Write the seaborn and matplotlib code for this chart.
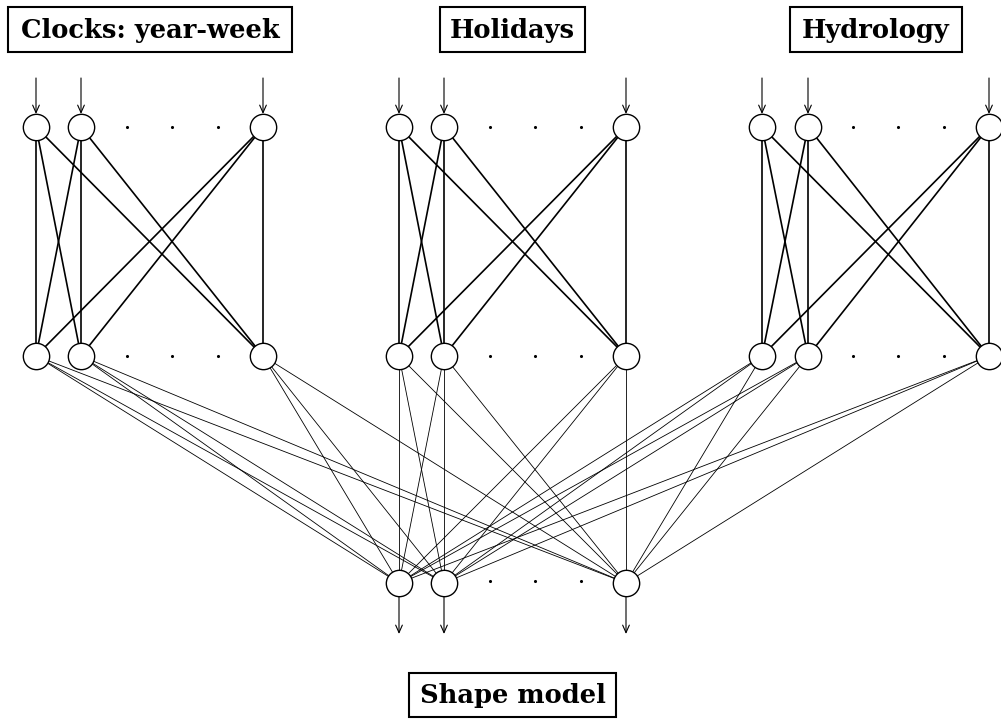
import numpy as np
import pandas as pd
import seaborn as sns
import matplotlib
matplotlib.use("Agg")
import matplotlib.pyplot as plt
from matplotlib.patches import Rectangle

# ---- data (diagram node layout) ----
group_labels = ["Clocks: year-week", "Holidays", "Hydrology"]
clocks_x = [36, 81, 263]
holidays_x = [399, 444, 626]
hydrology_x = [762, 808, 989]
output_x = [399, 444, 626]
output_label = "Shape model"
layer_y = [127, 356, 583]          # input, hidden, output rows
dot_offsets = [91, 136, 182]       # "· · ·" after the first node

group_boxes = [(8, 7, 284, 45), (440, 7, 145, 45), (790, 7, 172, 45)]
output_box = (409, 673, 207, 44)

sns.set_theme(style="white")

fig = plt.figure(figsize=(10.01, 7.19), dpi=100)
ax = fig.add_axes([0, 0, 1, 1])

groups_x = [clocks_x, holidays_x, hydrology_x]

# edges input -> hidden (within group)
rows_in = []
eid = 0
for xs in groups_x:
    for a in xs:
        for b in xs:
            rows_in.append(dict(edge=eid, x=a, y=layer_y[0]))
            rows_in.append(dict(edge=eid, x=b, y=layer_y[1]))
            eid += 1
df_in = pd.DataFrame(rows_in)

# edges hidden -> output (all groups)
rows_out = []
for xs in groups_x:
    for a in xs:
        for b in output_x:
            rows_out.append(dict(edge=eid, x=a, y=layer_y[1]))
            rows_out.append(dict(edge=eid, x=b, y=layer_y[2]))
            eid += 1
df_out = pd.DataFrame(rows_out)

sns.lineplot(data=df_in, x="x", y="y", units="edge", estimator=None, sort=False,
             color="black", linewidth=1.2, ax=ax, legend=False, zorder=2)
sns.lineplot(data=df_out, x="x", y="y", units="edge", estimator=None, sort=False,
             color="black", linewidth=0.6, ax=ax, legend=False, zorder=1)

# nodes
node_rows = []
for xs in groups_x:
    for x in xs:
        node_rows.append(dict(x=x, y=layer_y[0]))
        node_rows.append(dict(x=x, y=layer_y[1]))
for x in output_x:
    node_rows.append(dict(x=x, y=layer_y[2]))
df_nodes = pd.DataFrame(node_rows)
sns.scatterplot(data=df_nodes, x="x", y="y", s=360, marker="o", facecolor="white",
                edgecolor="black", linewidth=1.0, ax=ax, legend=False, zorder=5)

# dots
dot_rows = []
for xs in groups_x:
    for off in dot_offsets:
        dot_rows.append(dict(x=xs[0] + off, y=layer_y[0]))
        dot_rows.append(dict(x=xs[0] + off, y=layer_y[1]))
for off in dot_offsets:
    dot_rows.append(dict(x=output_x[0] + off, y=layer_y[2] - 2))
df_dots = pd.DataFrame(dot_rows)
sns.scatterplot(data=df_dots, x="x", y="y", s=5, color="black", linewidth=0,
                ax=ax, legend=False, zorder=5)

# arrows
arrow_kw = dict(arrowstyle="->,head_length=0.45,head_width=0.2", lw=0.8,
                color="black", shrinkA=0, shrinkB=0)
for xs in groups_x:
    for x in xs:
        ax.annotate("", xy=(x, layer_y[0] - 13), xytext=(x, 78), arrowprops=arrow_kw)
for x in output_x:
    ax.annotate("", xy=(x, 634), xytext=(x, layer_y[2] + 13), arrowprops=arrow_kw)

# boxes with labels
def boxed(label, box):
    x0, y0, w, h = box
    ax.add_patch(Rectangle((x0, y0), w, h, fill=True, facecolor="white",
                           edgecolor="black", linewidth=1.5, zorder=6))
    ax.text(x0 + w / 2, y0 + h / 2 + 1, label, ha="center", va="center",
            fontsize=18.5, fontfamily="DejaVu Serif", fontweight="bold",
            color="black", zorder=7)

for lab, box in zip(group_labels, group_boxes):
    boxed(lab, box)
boxed(output_label, output_box)

ax.set_xlim(0, 1001)
ax.set_ylim(719, 0)
ax.axis("off")

fig.savefig("out.png", dpi=100)
